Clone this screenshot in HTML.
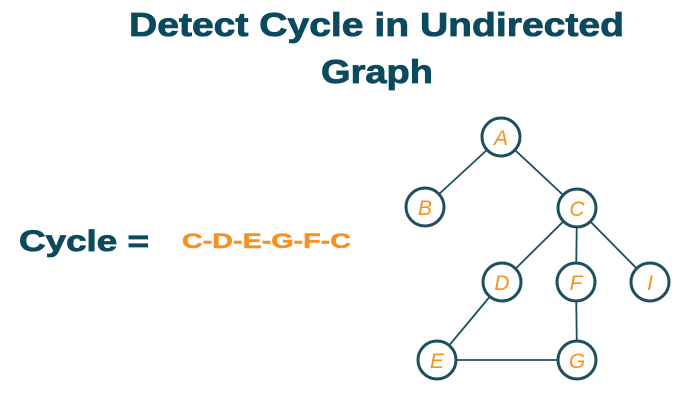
<!DOCTYPE html>
<html><head><meta charset="utf-8"><style>html,body{margin:0;padding:0;background:#fff}svg{display:block}</style></head>
<body>
<svg width="693" height="400" viewBox="0 0 693 400" xmlns="http://www.w3.org/2000/svg">
<text x="129" y="36" font-family="Liberation Sans, sans-serif" font-weight="bold" font-size="33" fill="#0b4a5c" stroke="#0b4a5c" stroke-width="0.8" textLength="495" lengthAdjust="spacingAndGlyphs">Detect Cycle in Undirected</text>
<text x="321" y="83" font-family="Liberation Sans, sans-serif" font-weight="bold" font-size="33" fill="#0b4a5c" stroke="#0b4a5c" stroke-width="0.8" textLength="112" lengthAdjust="spacingAndGlyphs">Graph</text>
<text x="19" y="251" font-family="Liberation Sans, sans-serif" font-weight="bold" font-size="30" fill="#0b4a5c" stroke="#0b4a5c" stroke-width="0.8" textLength="130" lengthAdjust="spacingAndGlyphs">Cycle =</text>
<text x="182" y="248" font-family="Liberation Sans, sans-serif" font-weight="bold" font-size="21" fill="#f7901e" stroke="#f7901e" stroke-width="0.5" textLength="169" lengthAdjust="spacingAndGlyphs">C-D-E-G-F-C</text>
<g id="edges" stroke="#1d4f5f" stroke-width="1.8"></g>
<g id="nodes"></g>
</svg>
<script>
const nodeNames=['A','B','C','D','F','I','E','G'];
const nodeX=[501,425,577,502,576,650,437,577];
const nodeY=[137,207,208,282,282,282,360,360];
const edgeList=[['A','B'],['A','C'],['C','D'],['C','F'],['C','I'],['D','E'],['F','G'],['E','G']];
const NS='http://www.w3.org/2000/svg';
const R=19;
const eg=document.getElementById('edges'), ng=document.getElementById('nodes');
const idx=n=>nodeNames.indexOf(n);
edgeList.forEach(([a,b])=>{
  const i=idx(a),j=idx(b);
  const l=document.createElementNS(NS,'line');
  l.setAttribute('x1',nodeX[i]);l.setAttribute('y1',nodeY[i]);
  l.setAttribute('x2',nodeX[j]);l.setAttribute('y2',nodeY[j]);
  
  
  eg.appendChild(l);
});
nodeNames.forEach((n,i)=>{
  const c=document.createElementNS(NS,'circle');
  c.setAttribute('cx',nodeX[i]);c.setAttribute('cy',nodeY[i]);c.setAttribute('r',R);
  c.setAttribute('fill','#fff');c.setAttribute('stroke','#1d4f5f');c.setAttribute('stroke-width','3');
  
  
  ng.appendChild(c);
  const t=document.createElementNS(NS,'text');
  t.setAttribute('x',nodeX[i]);t.setAttribute('y',nodeY[i]+8);
  t.setAttribute('text-anchor','middle');t.setAttribute('font-family','Liberation Sans, sans-serif');
  t.setAttribute('font-style','italic');t.setAttribute('font-size','21');t.setAttribute('fill','#f7901e');
  t.textContent=n;
  
  
  ng.appendChild(t);
});
</script>
</body></html>
